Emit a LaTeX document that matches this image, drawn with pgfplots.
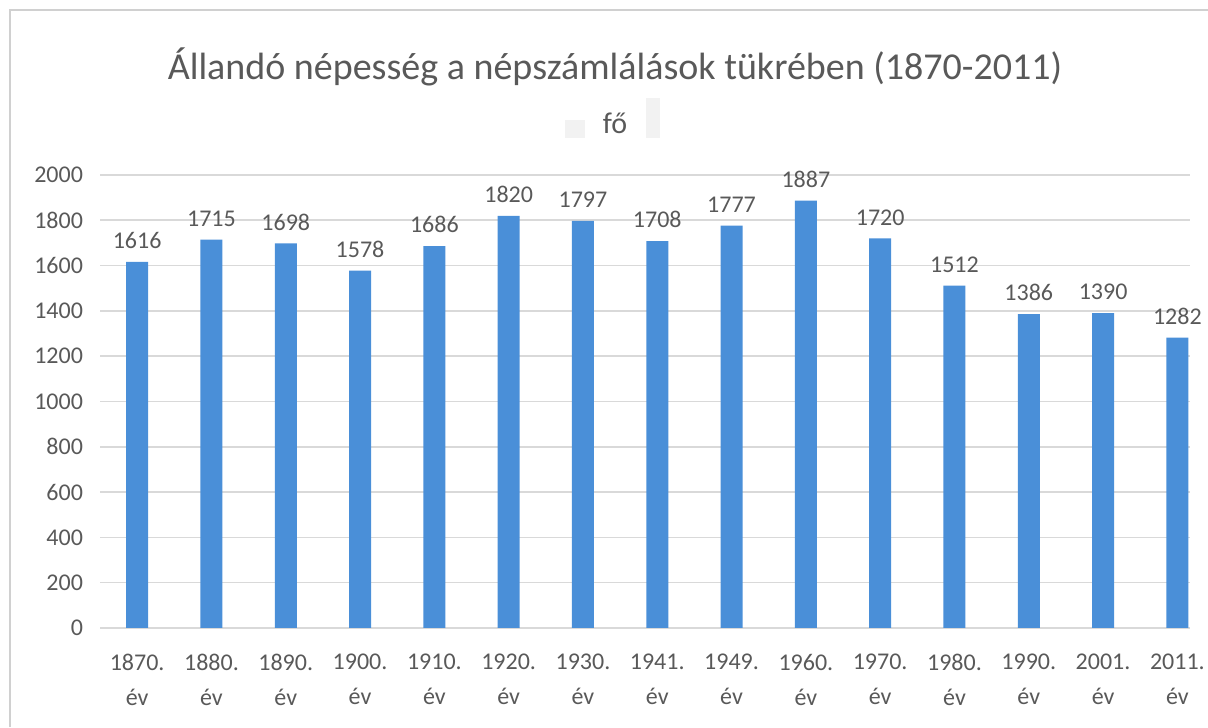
\documentclass[border=0pt]{standalone}
\usepackage{fontspec}
\setmainfont{Carlito}
\usepackage{pgfplots}
\pgfplotsset{compat=1.18}
\definecolor{barblue}{HTML}{4A8FD8}
\definecolor{gridgray}{HTML}{D9D9D9}
\definecolor{txtgray}{HTML}{595959}
\definecolor{framegray}{HTML}{D0D0D0}

\begin{document}
\begin{tikzpicture}
\useasboundingbox (0,0) rectangle (604pt,363.5pt);
% chart frame (top and left edges visible)
\draw[framegray, line width=1.2pt] (5pt,0) -- (5pt,358.5pt) -- (604pt,358.5pt);
% small artefacts next to the unit
\fill[black!5] (282.5pt,303.5pt) rectangle (292.5pt,294.5pt);
\fill[black!5] (323pt,314.5pt) rectangle (330pt,294.5pt);
\node[txtgray, font=\fontsize{19}{22}\selectfont] at (307.5pt,330pt)
  {Állandó népesség a népszámlálások tükrében (1870-2011)};
\node[txtgray, font=\fontsize{15}{17}\selectfont] at (307.5pt,302pt) {fő};
\begin{axis}[
    at={(50pt,49.5pt)}, anchor=south west,
    scale only axis,
    width=545pt, height=226.5pt,
    ybar, bar width=11pt,
    xmin=-0.5, xmax=14.17,
    ymin=0, ymax=2000,
    ytick={0,200,...,2000},
    xtick={0,...,14},
    xticklabels={1870.\\év,1880.\\év,1890.\\év,1900.\\év,1910.\\év,1920.\\év,1930.\\év,1941.\\év,1949.\\év,1960.\\év,1970.\\év,1980.\\év,1990.\\év,2001.\\év,2011.\\év},
    xticklabel style={align=center, font=\fontsize{12}{17.5}\selectfont, text=txtgray, yshift=-9.5pt},
    yticklabel style={font=\fontsize{12}{14}\selectfont, text=txtgray, xshift=-5pt},
    /pgf/number format/assume math mode=true,
    /pgf/number format/set thousands separator={},
    ymajorgrids, grid style={gridgray, line width=0.8pt},
    axis line style={draw=none},
    axis x line*=bottom,
    x axis line style={gridgray, line width=0.8pt},
    major tick length=0pt,
    nodes near coords,
    every node near coord/.append style={font=\fontsize{12}{14}\selectfont, text=txtgray, yshift=3pt,
      /pgf/number format/assume math mode=true, /pgf/number format/set thousands separator={}},
]
\addplot[fill=barblue, draw=none] coordinates {
(0,1616) (1,1715) (2,1698) (3,1578) (4,1686) (5,1820) (6,1797) (7,1708)
(8,1777) (9,1887) (10,1720) (11,1512) (12,1386) (13,1390) (14,1282)};
\end{axis}
\end{tikzpicture}
\end{document}
